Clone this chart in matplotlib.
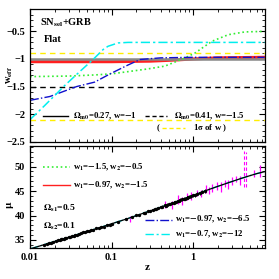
"""
w_eff(z) for the fitted models (top) and the Hubble diagram of SNe + GRBs (bottom).
"""

import matplotlib
matplotlib.use("Agg")
import matplotlib.pyplot as plt
from matplotlib.lines import Line2D

plt.rcParams["font.family"] = ["Liberation Serif", "DejaVu Serif"]
plt.rcParams["font.weight"] = "bold"
plt.rcParams["mathtext.fontset"] = "stix"
plt.rcParams["mathtext.default"] = "bf"

W, H = 279, 279

# ---- top panel: w_eff(z) ----
green_z = [0.01, 0.03, 0.062, 0.1, 0.159, 0.28, 0.45, 0.8, 1.06, 1.7, 2.7, 4.3, 7.5]
green_w = [-1.32, -1.31, -1.29, -1.27, -1.23, -1.18, -1.13, -0.98, -0.89, -0.68, -0.56, -0.51, -0.50]

red_z = [0.01, 0.1, 0.3, 0.6, 1.0, 2.0, 7.5]
red_w = [-1.05, -1.05, -1.04, -1.02, -1.0, -0.98, -0.97]

blue_z = [0.01, 0.0176, 0.0374, 0.062, 0.099, 0.159, 0.224, 0.4, 1.0, 7.5]
blue_w = [-1.75, -1.68, -1.50, -1.42, -1.26, -1.11, -1.01, -0.98, -0.97, -0.97]

cyan_z = [0.01, 0.015, 0.0267, 0.04, 0.0593, 0.0787, 0.0906, 0.12, 0.159, 0.3, 7.5]
cyan_w = [-2.1, -1.85, -1.48, -1.24, -1.01, -0.83, -0.77, -0.71, -0.70, -0.70, -0.70]

w_lcdm = -1.0
w_phantom = -1.5
w_sigma = [-0.9, -2.1]

# ---- bottom panel: distance modulus ----
curve_z = [0.01, 0.015, 0.02, 0.03, 0.05, 0.07, 0.1, 0.15, 0.2, 0.3, 0.5, 0.7, 1.0,
           1.5, 2.0, 3.0, 4.0, 5.0, 6.0, 7.5]
curve_mu = [33.17, 34.06, 34.70, 35.59, 36.73, 37.47, 38.31, 39.25, 39.96, 40.97, 42.26,
            43.13, 44.10, 45.21, 45.95, 46.95, 47.65, 48.15, 48.55, 48.95]

sn_z = [0.015, 0.016, 0.017, 0.018, 0.019, 0.021, 0.022, 0.023, 0.024, 0.025, 0.026,
        0.027, 0.028, 0.03, 0.031, 0.033, 0.035, 0.036, 0.038, 0.04, 0.042, 0.045,
        0.047, 0.05, 0.053, 0.056, 0.06, 0.065, 0.07, 0.075, 0.08, 0.088, 0.095, 0.1,
        0.12, 0.15, 0.18, 0.2, 0.22, 0.25, 0.26, 0.28, 0.3, 0.32, 0.34, 0.35, 0.37,
        0.4, 0.42, 0.45, 0.46, 0.48, 0.5, 0.52, 0.55, 0.58, 0.6, 0.62, 0.65, 0.68,
        0.7, 0.74, 0.78, 0.8, 0.83, 0.86, 0.9, 0.95, 1.0, 1.05, 1.12, 1.2, 1.3, 1.4]
sn_mu = [34.05, 34.25, 34.32, 34.47, 34.62, 34.85, 34.90, 35.02, 35.15, 35.12, 35.30,
         35.35, 35.42, 35.64, 35.62, 35.80, 35.88, 36.02, 36.10, 36.28, 36.35, 36.55,
         36.58, 36.80, 36.82, 37.00, 37.10, 37.35, 37.42, 37.66, 37.72, 38.05, 38.15, 38.35,
         38.70, 39.30, 39.62, 40.02, 40.15, 40.55, 40.60, 40.85, 40.90, 41.12, 41.33, 41.30,
         41.52, 41.75, 41.80, 42.05, 41.95, 42.22, 42.30, 42.35, 42.55, 42.62, 42.80, 42.78,
         43.00, 43.05, 43.20, 43.28, 43.45, 43.40, 43.62, 43.70, 43.85, 43.92, 44.15, 44.18,
         44.45, 44.55, 44.90, 45.00]
sn_err = [0.15, 0.15, 0.15, 0.15, 0.15, 0.15, 0.15, 0.15, 0.15, 0.15, 0.15,
          0.15, 0.15, 0.15, 0.15, 0.15, 0.15, 0.15, 0.15, 0.15, 0.15, 0.15,
          0.15, 0.15, 0.15, 0.15, 0.15, 0.15, 0.15, 0.15, 0.15, 0.15, 0.15, 0.15,
          0.2, 0.2, 0.2, 0.2, 0.2, 0.2, 0.2, 0.2, 0.2, 0.2, 0.25, 0.25, 0.25,
          0.25, 0.25, 0.25, 0.25, 0.25, 0.25, 0.25, 0.25, 0.25, 0.25, 0.25, 0.25, 0.3,
          0.3, 0.3, 0.3, 0.3, 0.3, 0.3, 0.3, 0.3, 0.3, 0.3, 0.35, 0.35, 0.35, 0.35]

grb_z = [0.17, 0.45, 0.55, 0.65, 0.73, 0.85, 0.94, 1.1, 1.25, 1.45, 1.55, 1.7, 1.95,
         2.2, 2.45, 2.7, 3.0, 3.4, 3.8, 5.6, 6.6]
grb_mu = [39.3, 42.2, 42.1, 43.3, 42.9, 43.9, 44.0, 44.6, 44.5, 45.4, 45.1, 45.7, 46.0,
          45.9, 46.6, 46.4, 47.0, 47.5, 47.2, 48.5, 49.1]
grb_err = [0.6, 0.7, 0.8, 0.9, 0.8, 0.7, 0.9, 0.6, 0.8, 0.9, 0.7, 0.8, 0.8,
           1.0, 0.7, 0.9, 0.8, 0.6, 0.9, 0.7, 1.2]
grb_wide_z = [4.2, 4.4]
grb_wide_mu = [49.5, 49.4]
grb_wide_err = [3.6, 3.5]


def fx(px):
    return px / W


def fy(py):
    return 1 - py / H


def style_axis(ax):
    ax.set_xscale("log")
    ax.set_xlim(0.01, 7.5)
    ax.tick_params(which="both", direction="in", top=True, right=True, labelsize=7.5)
    ax.tick_params(which="major", length=4, width=0.8)
    ax.tick_params(which="minor", length=2, width=0.6)
    for s in ax.spines.values():
        s.set_linewidth(0.9)


def key_line(fig, x0, x1, y, **kw):
    fig.add_artist(Line2D([fx(x0), fx(x1)], [fy(y), fy(y)], transform=fig.transFigure, **kw))


fig = plt.figure(figsize=(2.79, 2.79), dpi=100)
ax1 = fig.add_axes([fx(30), fy(141.7), fx(264.5) - fx(30), fy(9.3) - fy(141.7)])
ax2 = fig.add_axes([fx(30), fy(248.3), fx(264.5) - fx(30), fy(146) - fy(248.3)])

# top panel
style_axis(ax1)
ax1.set_ylim(-2.5, -0.1)
ax1.set_yticks([-2.5, -2, -1.5, -1, -0.5])
ax1.set_yticklabels(["\u22122.5", "\u22122", "\u22121.5", "\u22121", "\u22120.5"])
ax1.yaxis.set_minor_locator(plt.MultipleLocator(0.1))
ax1.tick_params(labelbottom=False)

for w in w_sigma:
    ax1.axhline(w, color="#ffee00", ls=(0, (4, 3)), lw=1)
ax1.axhline(w_phantom, color="black", ls=(0, (4, 3)), lw=1)
ax1.plot(red_z, red_w, color="#ff2020", lw=2.2)
ax1.axhline(w_lcdm, color="#888888", lw=1.8)
ax1.plot(green_z, green_w, color="#33ee33", ls=":", lw=1.2)
ax1.plot(blue_z, blue_w, color="#1010cc", ls="-.", lw=1)
ax1.plot(cyan_z, cyan_w, color="#00eeee", ls=(0, (6, 2, 1.5, 2)), lw=1.1)

fig.text(fx(40), fy(23), r"SN$_{sel}$+GRB", fontsize=7.5, va="center")
fig.text(fx(44), fy(40), "Flat", fontsize=7.5, va="center")

key_line(fig, 43, 68, 116, color="black", lw=1)
fig.text(fx(73), fy(116), r"$\Omega_{m0}$=0.27, w=$-$1", fontsize=6.3, va="center")
key_line(fig, 145, 167, 116, color="black", lw=1, ls=(0, (3, 2)))
fig.text(fx(174), fy(116), r"$\Omega_{m0}$=0.41, w=$-$1.5", fontsize=6.3, va="center")
fig.text(fx(157), fy(128), "(", fontsize=6.3, va="center")
key_line(fig, 162, 185, 128, color="#ffee00", lw=1, ls=(0, (3, 2)))
fig.text(fx(193), fy(128), r"1$\sigma$ of w )", fontsize=6.3, va="center")

fig.text(fx(10), fy(75), r"w$_{eff}$", fontsize=7.5, rotation=90, ha="center", va="center")

# bottom panel
style_axis(ax2)
ax2.set_ylim(33.3, 54.2)
ax2.set_yticks([35, 40, 45, 50])
ax2.yaxis.set_minor_locator(plt.MultipleLocator(1))
ax2.set_xticks([0.01, 0.1, 1])
ax2.set_xticklabels(["0.01", "0.1", "1"])

ax2.errorbar(grb_z, grb_mu, yerr=grb_err, fmt="none", ecolor="#ff00ff", elinewidth=0.9)
eb = ax2.errorbar(grb_wide_z, grb_wide_mu, yerr=grb_wide_err, fmt="none",
                  ecolor="#ff00ff", elinewidth=0.8)
eb[2][0].set_linestyle((0, (3, 2)))
ax2.plot(curve_z, curve_mu, color="#00eeee", ls="-.", lw=1)
ax2.plot(curve_z, curve_mu, color="black", lw=0.9)
ax2.errorbar(sn_z, sn_mu, yerr=sn_err, fmt="o", color="black", ms=1.4,
             elinewidth=0.6, capsize=0)

key_line(fig, 43, 70, 167, color="#33ee33", lw=1.2, ls=":")
fig.text(fx(73), fy(167), r"w$_1$=$-$1.5, w$_2$=$-$0.5", fontsize=6.3, va="center")
key_line(fig, 43, 70, 185, color="#ff2020", lw=1)
fig.text(fx(73), fy(185), r"w$_1$=$-$0.97, w$_2$=$-$1.5", fontsize=6.3, va="center")
fig.text(fx(43), fy(208), r"$\Omega_{s1}$=0.5", fontsize=6.8, va="center")
fig.text(fx(43), fy(226), r"$\Omega_{s2}$=0.1", fontsize=6.8, va="center")
key_line(fig, 145, 172, 219.5, color="#1010cc", lw=1, ls="-.")
fig.text(fx(175), fy(219.5), r"w$_1$=$-$0.97, w$_2$=$-$6.5", fontsize=6.3, va="center")
key_line(fig, 145, 172, 234, color="#00eeee", lw=1, ls=(0, (6, 2, 1.5, 2)))
fig.text(fx(175), fy(234), r"w$_1$=$-$0.7, w$_2$=$-$12", fontsize=6.3, va="center")

fig.text(fx(10), fy(205), r"$\mu$", fontsize=8, rotation=90, ha="center", va="center")
fig.text(fx(147), fy(268), "z", fontsize=8, ha="center", va="center")

fig.savefig("out.png", dpi=100)
